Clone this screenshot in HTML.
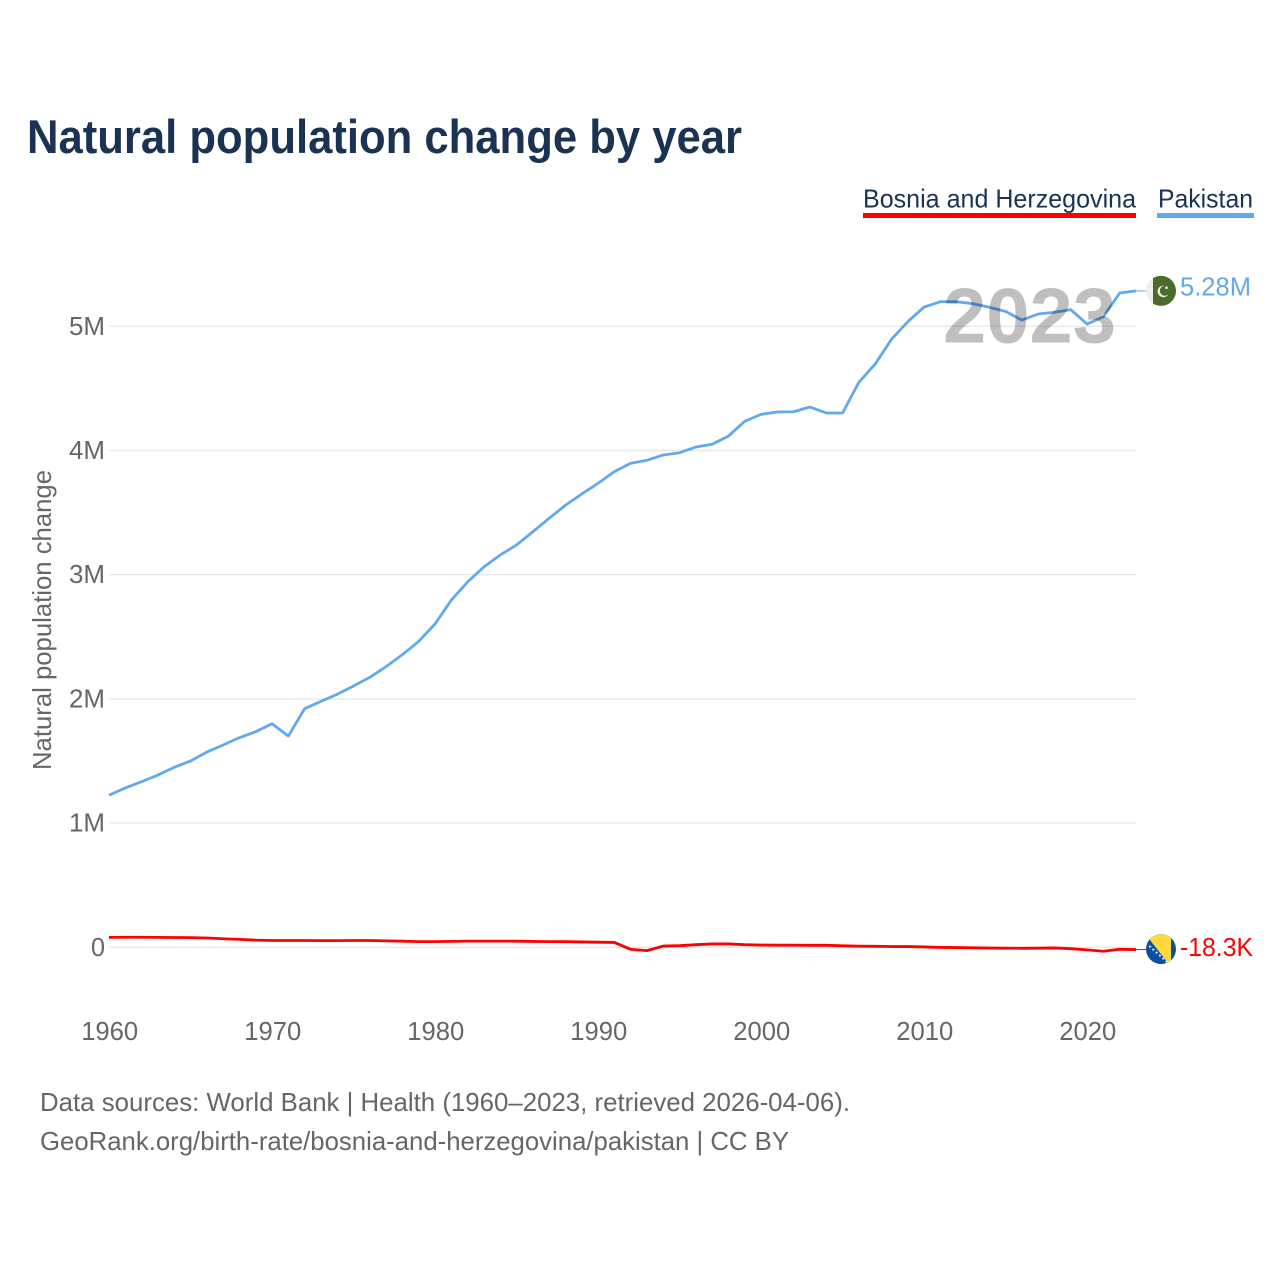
<!DOCTYPE html>
<html lang="en">
<head>
<meta charset="utf-8">
<title>Natural population change by year</title>
<style>
html,body{margin:0;padding:0;background:#fff;width:1280px;height:1280px;overflow:hidden}
svg{display:block;font-family:"Liberation Sans",sans-serif}
</style>
</head>
<body>
<svg id="chart" xmlns="http://www.w3.org/2000/svg" width="1280" height="1280" viewBox="0 0 1280 1280">
  <defs>
    <clipPath id="flag-clip"><circle cx="0" cy="0" r="15"></circle></clipPath>
  </defs>
  <text x="27" y="153" font-size="47" font-weight="700" fill="#1a3352" textLength="715" lengthAdjust="spacingAndGlyphs">Natural population change by year</text>

  <g>
    <g>
      <text x="863" y="207.5" font-size="26" fill="#1a3352" textLength="273" lengthAdjust="spacingAndGlyphs">Bosnia and Herzegovina</text>
      <rect x="863" y="213" width="273" height="5" fill="#ff0000"></rect>
    </g>
    <g>
      <text x="1158" y="207.5" font-size="26" fill="#1a3352" textLength="95" lengthAdjust="spacingAndGlyphs">Pakistan</text>
      <rect x="1157" y="213" width="97" height="5" fill="#62a8ec"></rect>
    </g>
  </g>

  <g id="grid"></g>
  <g id="y-ticks"></g>
  <g id="x-ticks"></g>
  <text transform="translate(51,770) rotate(-90)" font-size="26" fill="#666666" textLength="300" lengthAdjust="spacingAndGlyphs">Natural population change</text>

  <g id="series"></g>
  <g id="end-markers"></g>

  <text x="943" y="342.5" font-size="78" font-weight="700" fill="#000000" fill-opacity="0.25" textLength="173" lengthAdjust="spacingAndGlyphs">2023</text>

  <text x="40" y="1111" font-size="26" fill="#666666" textLength="810" lengthAdjust="spacingAndGlyphs">Data sources: World Bank | Health (1960–2023, retrieved 2026-04-06).</text>
  <text x="40" y="1150" font-size="26" fill="#666666" textLength="749" lengthAdjust="spacingAndGlyphs">GeoRank.org/birth-rate/bosnia-and-herzegovina/pakistan | CC BY</text>
</svg>
<script>
const startYear = 1960;
const pakistanMillions = [
  1.224,1.283,1.333,1.387,1.449,1.500,1.572,1.629,1.688,1.736,
  1.800,1.701,1.921,1.980,2.037,2.104,2.174,2.260,2.356,2.464,
  2.603,2.796,2.942,3.063,3.159,3.239,3.346,3.454,3.559,3.650,
  3.736,3.830,3.897,3.921,3.964,3.982,4.028,4.050,4.116,4.235,
  4.291,4.310,4.312,4.350,4.302,4.302,4.549,4.696,4.895,5.037,
  5.155,5.198,5.198,5.182,5.153,5.120,5.050,5.099,5.113,5.134,
  5.018,5.077,5.268,5.285
];
const bosniaThousands = [
  80,81,81,80,79,78,75,69,64,58,
  55,55,55,54,54,55,55,52,49,46,
  46,48,50,50,50,49,47,46,45,43,
  41,39,-16,-27,10,13,21,27,27,21,
  18,17,17,16,16,12,9,8,6,6,
  3,-1,-2,-4,-6,-7,-8,-7,-5,-11,
  -21,-32,-16,-18.3
];
const yTickValues = [0,1,2,3,4,5];
const yTickLabels = ['0','1M','2M','3M','4M','5M'];
const xTickYears = [1960,1970,1980,1990,2000,2010,2020];
const pakistanEndLabel = '5.28M';
const bosniaEndLabel = '-18.3K';

const NS = 'http://www.w3.org/2000/svg';
const plotLeft = 109, plotRight = 1136, zeroY = 947.3, pxPerMillion = 124.2;
const lastIndex = pakistanMillions.length - 1;
function xScale(year){ return plotLeft + (year - startYear) * (plotRight - plotLeft) / lastIndex; }
function yScale(millions){ return zeroY - millions * pxPerMillion; }
function make(tag, parent, props){
  const el = document.createElementNS(NS, tag);
  for (const k in props) el.setAttribute(k, props[k]);
  parent.appendChild(el);
  return el;
}
function pathFrom(vals){
  return vals.map((v,i)=>(i?'L':'M')+xScale(startYear+i).toFixed(2)+' '+yScale(v).toFixed(2)).join(' ');
}

const grid = document.getElementById('grid');
const yTicks = document.getElementById('y-ticks');
yTickValues.forEach((v,i)=>{
  const line = make('line', grid, {x1:plotLeft,x2:plotRight,y1:yScale(v),y2:yScale(v),stroke:'#e8e8e8','stroke-width':1.4});
  
  
  const label = make('text', yTicks, {x:105,y:yScale(v)+8.5,'text-anchor':'end','font-size':26,fill:'#666666'});
  
  
  label.setAttribute('textLength', i === 0 ? 14 : 36);
  label.setAttribute('lengthAdjust', 'spacingAndGlyphs');
  label.textContent = yTickLabels[i];
});

const xTicks = document.getElementById('x-ticks');
xTickYears.forEach((yr)=>{
  const label = make('text', xTicks, {x:xScale(yr)+0.7,y:1040,'text-anchor':'middle','font-size':26,fill:'#666666'});
  
  
  label.setAttribute('textLength', 57);
  label.setAttribute('lengthAdjust', 'spacingAndGlyphs');
  label.textContent = yr;
});

const series = document.getElementById('series');
const pakistanLine = make('path', series, {d:pathFrom(pakistanMillions),fill:'none',stroke:'#62a8ec','stroke-width':2.8,'stroke-linejoin':'round'});


const bosniaMillions = bosniaThousands.map(v=>v/1000);
const bosniaLine = make('path', series, {d:pathFrom(bosniaMillions),fill:'none',stroke:'#ff0000','stroke-width':2.8,'stroke-linejoin':'round'});



const markers = document.getElementById('end-markers');
const pakY = yScale(pakistanMillions[lastIndex]);
const bosY = yScale(bosniaMillions[lastIndex]);
const flagX = 1161;

const pakConnector = make('line', markers, {x1:plotRight,x2:flagX-15,y1:pakY,y2:pakY,stroke:'#62a8ec','stroke-width':1});


const bosConnector = make('line', markers, {x1:plotRight,x2:flagX-15,y1:bosY,y2:bosY,stroke:'#ff0000','stroke-width':1});



const pakFlag = make('g', markers, {transform:`translate(${flagX},${pakY})`,'clip-path':'url(#flag-clip)'});


make('rect', pakFlag, {x:-15,y:-16,width:8,height:32,fill:'#eeeeee'});
make('rect', pakFlag, {x:-8,y:-16,width:24,height:32,fill:'#4b6c2c'});
make('path', pakFlag, {d:'M3.5 -5.2 A5.8 5.8 0 1 0 7.5 3.2 A5 5 0 1 1 3.5 -5.2 Z',fill:'#eeeeee'});
make('circle', pakFlag, {cx:5.5,cy:-3.2,r:1.3,fill:'#eeeeee'});

const bosFlag = make('g', markers, {transform:`translate(${flagX},${bosY-0.5})`,'clip-path':'url(#flag-clip)'});


make('rect', bosFlag, {x:-16,y:-17,width:32,height:34,fill:'#0b4ea8'});
make('polygon', bosFlag, {points:'-17.3,-17 10,-17 10,17.7',fill:'#ffd83d'});
for (let k = 0; k < 6; k++) {
  make('circle', bosFlag, {cx:-11+k*3.3,cy:-2.5+k*3,r:1.1,fill:'#eeeeee'});
}

const pakLabel = make('text', markers, {x:1180,y:pakY+4.5,'font-size':26,fill:'#62a8ec',textLength:71,lengthAdjust:'spacingAndGlyphs'});


pakLabel.textContent = pakistanEndLabel;
const bosLabel = make('text', markers, {x:1180,y:bosY+6.5,'font-size':26,fill:'#ff0000',textLength:73,lengthAdjust:'spacingAndGlyphs'});


bosLabel.textContent = bosniaEndLabel;
</script>
</body>
</html>
